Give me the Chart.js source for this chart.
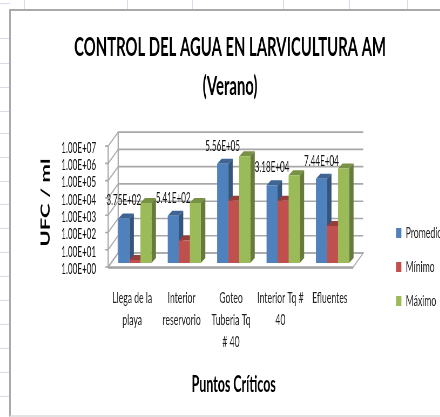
<!DOCTYPE html>
<html><head><meta charset="utf-8">
<script src="https://cdn.jsdelivr.net/npm/chart.js@4"></script>
<style>
html,body{margin:0;padding:0;width:440px;height:417px;overflow:hidden;background:#fff}
#sheet{position:absolute;left:0;top:0;width:440px;height:417px;overflow:hidden}
.h{position:absolute;left:0;width:10px;height:1px;background:#d5dcea}
.v{position:absolute;top:0;width:1px;height:10px;background:#d5dcea}
#frame{position:absolute;left:9px;top:9px;width:440px;height:404px;background:#fff;border:2px solid #a9a9a9;border-bottom-color:#e2e2e2}
#wrap{position:absolute;left:0;top:0;transform:scaleX(0.54);transform-origin:0 0}
</style></head>
<body>
<div id="sheet"><div id="frame"></div><div id="wrap"><canvas id="c" width="852" height="417"></canvas></div></div>
<script>
const categories = [['Llega de la','playa'],['Interior','reservorio'],['Goteo','Tuberia Tq','# 40'],['Interior Tq #','40'],['Efluentes']];
const promedio = [375, 541, 556000, 31800, 74400];
const minimo = [1.5, 20, 4000, 4000, 140];
const maximo = [3000, 3000, 1500000, 120000, 300000];
const tickValues = [1,10,100,1000,10000,100000,1000000,10000000];
const titleLines = ['CONTROL DEL AGUA EN LARVICULTURA AM','(Verano)'];
const sheetRows = [3,38,63,87,111,133,157,181,204,228,252,276,300,324,348,372,396];
const sheetCols = [24,127,192,283,349,407];

const sheet = document.getElementById('sheet');
sheetRows.forEach(y=>{const d=document.createElement('div');d.className='h';d.style.top=y+'px';sheet.insertBefore(d,sheet.firstChild);});
sheetCols.forEach(x=>{const d=document.createElement('div');d.className='v';d.style.left=x+'px';sheet.insertBefore(d,sheet.firstChild);});

const SX = 0.54;
const fmt = v => { const e=Math.floor(Math.log10(v)+1e-9); const m=(v/Math.pow(10,e)).toFixed(2); return m+'E+'+String(e).padStart(2,'0'); };
const FONT = 'Lato, "Noto Sans", sans-serif';
const depthX = 4.5/SX, depthY = 5;

function shade(c,f){const n=parseInt(c.slice(1),16);return `rgb(${(n>>16&255)*f|0},${(n>>8&255)*f|0},${(n&255)*f|0})`;}
function poly(ctx,pts){ctx.beginPath();pts.forEach((p,i)=>i?ctx.lineTo(p[0],p[1]):ctx.moveTo(p[0],p[1]));ctx.closePath();}

const threeD = {
  id:'threeD',
  afterLayout(chart){
    const l=chart.legend; const h=l.bottom-l.top; const w=l.right-l.left;
    const pad=l.options.labels.padding;
    l.left=396/SX-pad; l.right=l.left+w; l.top=207; l.bottom=l.top+h;
    const t=chart.titleBlock; t.left=0; t.right=chart.width; t.width=chart.width;
  },
  beforeDatasetsDraw(chart){
    const ctx=chart.ctx, a=chart.chartArea, y=chart.scales.y;
    const fx=a.left-2/SX, bx=a.left+8/SX, rb=a.right+6/SX, fr=a.right-4/SX;
    const fo=4, bo=-10;
    ctx.save();
    const f0=y.getPixelForValue(tickValues[0]);
    poly(ctx,[[fx,f0+fo],[fr,f0+fo],[rb,f0+bo],[bx,f0+bo]]);
    ctx.fillStyle='#fff';ctx.fill();ctx.strokeStyle='#a8a8a8';ctx.lineWidth=1.5;ctx.stroke();
    ctx.beginPath();ctx.moveTo(fx,f0+fo+1);ctx.lineTo(fr,f0+fo+1);ctx.strokeStyle='#9a9a9a';ctx.stroke();
    tickValues.forEach(v=>{
      const p=y.getPixelForValue(v);
      ctx.beginPath();ctx.moveTo(bx,p+bo);ctx.lineTo(rb,p+bo);ctx.moveTo(fx,p+fo);ctx.lineTo(bx,p+bo);
      ctx.moveTo(fx-3/SX,p+fo);ctx.lineTo(fx,p+fo);
      ctx.strokeStyle='#a8a8a8';ctx.lineWidth=1.6;ctx.stroke();
    });
    const top=y.getPixelForValue(tickValues[tickValues.length-1]);
    ctx.beginPath();ctx.moveTo(fx,top+fo);ctx.lineTo(fx,f0+fo);ctx.moveTo(bx,top+bo);ctx.lineTo(bx,f0+bo);
    ctx.lineWidth=2.2;ctx.strokeStyle='#a8a8a8';ctx.stroke();
    chart.data.datasets.forEach((ds,i)=>{
      chart.getDatasetMeta(i).data.forEach(b=>{
        const L=b.x-b.width/2,R=b.x+b.width/2,T=b.y,B=b.base;
        poly(ctx,[[R,T],[R+depthX,T-depthY],[R+depthX,B-depthY],[R,B]]);
        ctx.fillStyle=shade(ds.backgroundColor,0.66);ctx.fill();
        poly(ctx,[[L,T],[L+depthX,T-depthY],[R+depthX,T-depthY],[R,T]]);
        ctx.fillStyle=shade(ds.backgroundColor,0.78);ctx.fill();
      });
    });
    ctx.restore();
  },
  afterDatasetsDraw(chart){
    const ctx=chart.ctx;
    ctx.save();
    ctx.font='15px '+FONT;ctx.fillStyle='#111';ctx.textAlign='center';ctx.textBaseline='middle';
    chart.getDatasetMeta(0).data.forEach((b,i)=>{
      ctx.fillText(fmt(promedio[i]),b.x,b.y-18);
    });
    ctx.restore();
  }
};

new Chart(document.getElementById('c'),{
  type:'bar',
  data:{labels:categories,datasets:[
    {label:'Promedio',data:promedio,backgroundColor:'#4F81BD'},
    {label:'Mínimo',data:minimo,backgroundColor:'#C0504D'},
    {label:'Máximo',data:maximo,backgroundColor:'#9BBB59'}
  ]},
  plugins:[threeD],
  options:{
    responsive:false,animation:false,
    layout:{padding:{left:0,right:77,top:0,bottom:0}},
    datasets:{bar:{barPercentage:1,categoryPercentage:0.67}},
    scales:{
      x:{
        grid:{display:false},border:{display:false},
        ticks:{font:{family:FONT,size:16,lineHeight:1.375},color:'#222',padding:16,labelOffset:-5,maxRotation:0,autoSkip:false},
        title:{display:true,text:'Puntos Críticos',color:'#000',font:{family:FONT,size:23,weight:'bold'},padding:{top:0,bottom:19}},
        afterFit(s){s.height=154;}
      },
      y:{
        type:'logarithmic',min:1,max:1e7,
        grid:{display:false},border:{display:false},
        afterBuildTicks(s){s.ticks=tickValues.map(v=>({value:v}));},
        ticks:{font:{family:FONT,size:15},color:'#111',padding:18,labelOffset:6,autoSkip:false,callback:v=>fmt(v)},
        title:{display:true,text:'UFC / ml',color:'#000',font:{family:FONT,size:22,weight:'bold'},padding:{top:72,bottom:0}},
        afterFit(s){s.width=204;}
      }
    },
    plugins:{
      title:{display:true,text:titleLines,color:'#000',font:{family:FONT,size:27.5,weight:'bold',lineHeight:1.42},padding:{top:28,bottom:36}},
      legend:{position:'right',align:'start',labels:{font:{family:FONT,size:16},color:'#222',boxWidth:10,boxHeight:10,padding:18}},
      tooltip:{enabled:false}
    }
  }
});
</script>
</body></html>
